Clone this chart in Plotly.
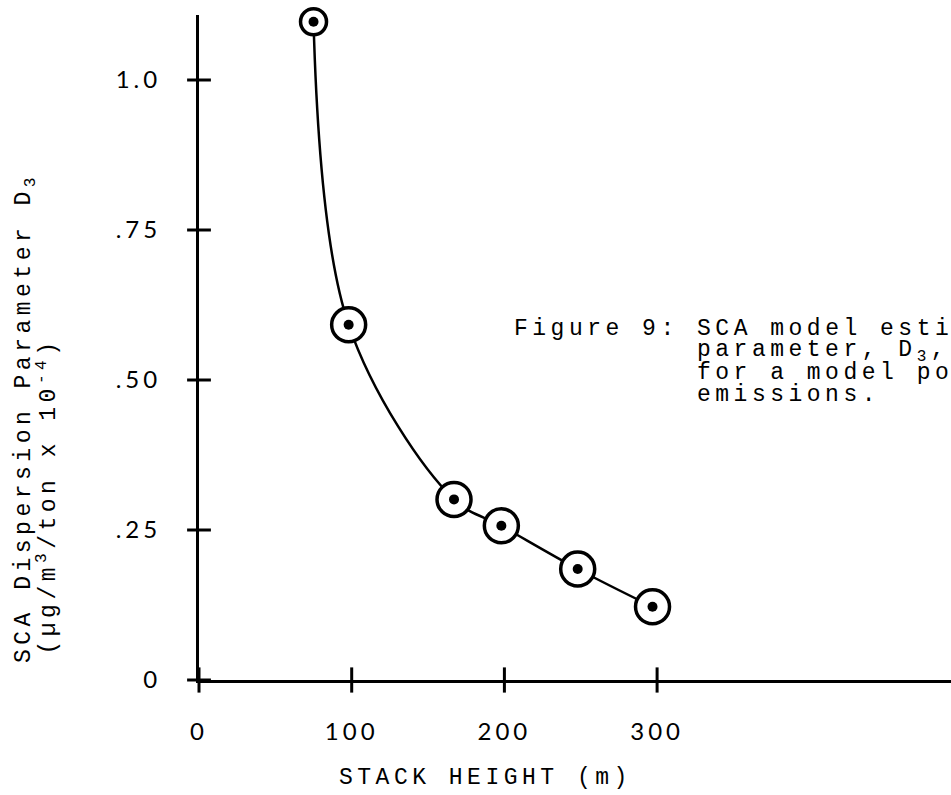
import plotly.graph_objects as go

# ---- data ----
stack_height = [75, 98, 167, 198, 248, 297]          # m
d3_value = [1.097, 0.592, 0.301, 0.257, 0.185, 0.122]  # ug/m3/ton x 1e-4
ring_size = [26, 34, 34, 34, 34, 34]

x_tick_vals = [0, 100, 200, 300]
x_tick_text = ["0", "100", "200", "300"]
y_tick_vals = [0, 0.25, 0.50, 0.75, 1.0]
y_tick_text = ["0", ".25", ".50", ".75", "1.0"]

caption_lines = [
    "Figure 9: SCA model estimates of the dispersion",
    "parameter, D<sub>3</sub>, as a function of stack height",
    "for a model power plant's",
    "emissions.",
]
x_title = "STACK HEIGHT (m)"
y_title_1 = "SCA Dispersion Parameter D<sub>3</sub>"
y_title_2 = "(\u00b5g/m<sup>3</sup>/ton x 10<sup>-4</sup>)"

TYPE = "Liberation Mono, Courier New, monospace"
SANS = "Lato, Noto Sans, sans-serif"


def spaced(txt, ls):
    return '<span style="letter-spacing:%.1fpx">%s</span>' % (ls, txt)


fig = go.Figure()

# smooth curve
fig.add_trace(go.Scatter(
    x=stack_height, y=d3_value, mode="lines",
    line=dict(color="black", width=2.5, shape="spline", smoothing=1.0),
    hoverinfo="skip", showlegend=False))
# rings
fig.add_trace(go.Scatter(
    x=stack_height, y=d3_value, mode="markers",
    marker=dict(symbol="circle", size=ring_size, color="white", opacity=1,
                line=dict(color="black", width=3.5)),
    cliponaxis=False, showlegend=False))
# centre dots
fig.add_trace(go.Scatter(
    x=stack_height, y=d3_value, mode="markers",
    marker=dict(symbol="circle", size=10, color="black", opacity=1),
    cliponaxis=False, showlegend=False))
# crossing tick marks
fig.add_trace(go.Scatter(
    x=x_tick_vals, y=[0] * len(x_tick_vals), mode="markers",
    marker=dict(symbol="line-ns-open", size=18, color="black",
                line=dict(color="black", width=3)),
    cliponaxis=False, hoverinfo="skip", showlegend=False))
fig.add_trace(go.Scatter(
    x=[0] * len(y_tick_vals), y=y_tick_vals, mode="markers",
    marker=dict(symbol="line-ew-open", size=17, color="black",
                line=dict(color="black", width=3)),
    cliponaxis=False, hoverinfo="skip", showlegend=False))

L, T, B = 199, 15, 115
W, H = 951, 795
plot_w = W - L
plot_h = H - T - B


def px_x(p):
    return (p - L) / plot_w


def px_y(p):
    return (H - B - p) / plot_h


TSIZE = 23
TLS = 4.5
annotations = []
# caption
cap_x = [512, 695, 695, 695]
cap_y = [329, 351, 373, 395]
for txt, cx, cy in zip(caption_lines, cap_x, cap_y):
    annotations.append(dict(
        text=spaced(txt, TLS), xref="paper", yref="paper", x=px_x(cx), y=px_y(cy),
        xanchor="left", yanchor="middle", showarrow=False,
        font=dict(family=TYPE, size=TSIZE, color="black")))

# x title
annotations.append(dict(
    text=spaced(x_title, TLS), xref="paper", yref="paper",
    x=px_x(337), y=px_y(778), xanchor="left", yanchor="middle",
    showarrow=False, font=dict(family=TYPE, size=TSIZE, color="black")))

# y title (two lines)
annotations.append(dict(
    text=spaced(y_title_1, TLS), xref="paper", yref="paper",
    x=px_x(25), y=px_y(665), xanchor="center", yanchor="bottom", textangle=-90,
    showarrow=False, font=dict(family=TYPE, size=TSIZE, color="black")))
annotations.append(dict(
    text=spaced(y_title_2, TLS), xref="paper", yref="paper",
    x=px_x(47), y=px_y(657), xanchor="center", yanchor="bottom", textangle=-90,
    showarrow=False, font=dict(family=TYPE, size=TSIZE, color="black")))

fig.update_layout(
    width=W, height=H,
    margin=dict(l=L, r=0, t=T, b=B),
    paper_bgcolor="white", plot_bgcolor="white",
    annotations=annotations,
    xaxis=dict(range=[0, plot_w / 1.527], showgrid=False, zeroline=False,
               showline=True, linecolor="black", linewidth=3,
               tickvals=x_tick_vals,
               ticktext=[spaced(t, 4) for t in x_tick_text], ticks="",
               ticklabelstandoff=28,
               tickfont=dict(family=SANS, size=24, color="black")),
    yaxis=dict(range=[0, plot_h / 600.0], showgrid=False, zeroline=False,
               showline=True, linecolor="black", linewidth=3,
               tickvals=y_tick_vals,
               ticktext=[spaced(t, 4) for t in y_tick_text], ticks="",
               ticklabelstandoff=30,
               tickfont=dict(family=SANS, size=24, color="black")),
)

fig.write_html("out.html")
